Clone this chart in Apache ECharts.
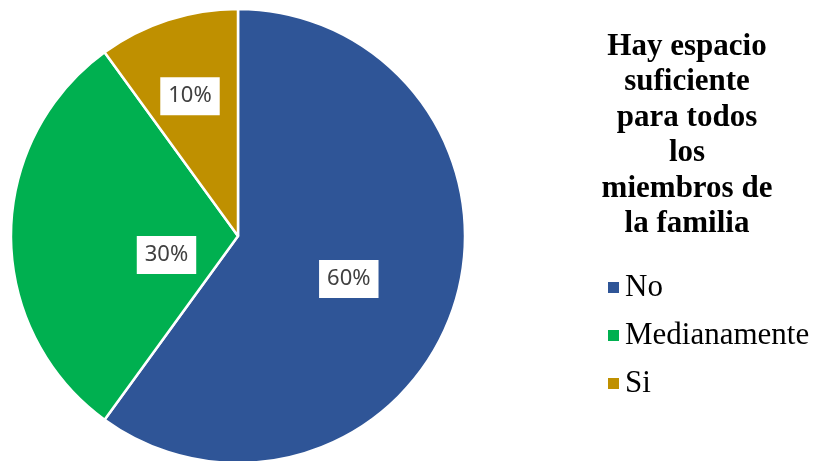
<!DOCTYPE html>
<html><head><meta charset="utf-8">
<script src="https://cdn.jsdelivr.net/npm/echarts@6/dist/echarts.min.js"></script>
<style>html,body{margin:0;padding:0;background:#fff}#c{width:817px;height:461px}</style>
</head><body><div id="c"></div>
<script>
const categories = ['No', 'Medianamente', 'Si'];
const values = [60, 30, 10];
const colors = ['#2F5597', '#00B050', '#BF9000'];
const titleText = 'Hay espacio\nsuficiente\npara todos\nlos\nmiembros de\nla familia';
const labelOffsets = [[0, 7], [45, 19], [-12, -29]];

const chart = echarts.init(document.getElementById('c'));
chart.setOption({
  backgroundColor: '#fff',
  animation: false,
  title: {
    text: titleText,
    left: 682, top: 24, textAlign: 'center',
    textStyle: { fontFamily: 'Liberation Serif', fontWeight: 'bold', fontSize: 31, lineHeight: 35.5, color: '#000' }
  },
  legend: {
    orient: 'vertical', left: 603, top: 267,
    icon: 'rect', itemWidth: 11, itemHeight: 11, itemGap: 17,
    itemStyle: { borderWidth: 0 },
    data: categories,
    textStyle: { fontFamily: 'Liberation Serif', fontSize: 31, lineHeight: 30, color: '#000', padding: [0, 0, 0, 1] }
  },
  series: [{
    type: 'pie',
    center: [238, 236], radius: 227,
    startAngle: 90, clockwise: true,
    itemStyle: { borderColor: '#fff', borderWidth: 2.5 },
    label: {
      show: true, position: 'inside', formatter: '{c}%',
      fontFamily: 'Noto Sans', fontSize: 22, lineHeight: 22, color: '#404040',
      backgroundColor: '#fff', padding: [8, 8, 8, 8]
    },
    labelLine: { show: false },
    data: categories.map((n, i) => ({
      name: n, value: values[i],
      itemStyle: { color: colors[i] },
      label: { offset: labelOffsets[i] }
    }))
  }]
});
</script></body></html>
